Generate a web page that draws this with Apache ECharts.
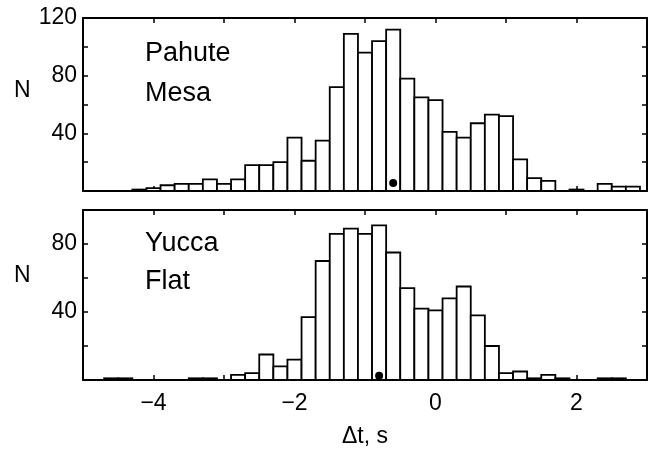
<!DOCTYPE html>
<html>
<head>
<meta charset="utf-8">
<script src="https://cdn.jsdelivr.net/npm/echarts@6/dist/echarts.min.js"></script>
<style>
  html, body { margin: 0; padding: 0; background: #fff; }
  #main { width: 654px; height: 449px; }
</style>
</head>
<body>
<div id="main"></div>
<script>
// histogram bins, width 0.2 s, centred on these values
var binWidth = 0.2;
var binCenters = [-4.8, -4.6, -4.4, -4.2, -4.0, -3.8, -3.6, -3.4, -3.2, -3.0,
  -2.8, -2.6, -2.4, -2.2, -2.0, -1.8, -1.6, -1.4, -1.2, -1.0,
  -0.8, -0.6, -0.4, -0.2, 0.0, 0.2, 0.4, 0.6, 0.8, 1.0,
  1.2, 1.4, 1.6, 1.8, 2.0, 2.2, 2.4, 2.6, 2.8];

var pahuteCounts = [0, 0, 0, 1, 2, 4, 5, 5, 8, 5,
  8, 18, 18, 20, 37, 21, 35, 72, 109, 96,
  104, 112, 78, 65, 63, 41, 37, 47, 53, 52,
  22, 9, 7, 0, 1, 0, 5, 3, 3];

var yuccaCounts = [0, 1, 1, 0, 0, 0, 0, 1, 1, 0,
  3, 4, 15, 8, 12, 37, 70, 86, 89, 86,
  91, 75, 54, 42, 41, 48, 55, 38, 20, 4,
  5, 1, 3, 1, 0, 0, 1, 1, 0];

// mean markers
var pahuteMean = [-0.6, 5.5];
var yuccaMean = [-0.8, 2.5];

var xTicks = [-4, -2, 0, 2];
var pahuteYTicks = [40, 80, 120];
var yuccaYTicks = [40, 80];

var font = 'Liberation Sans, Arial, sans-serif';

function toPairs(counts) {
  return binCenters.map(function (c, i) { return [c, counts[i]]; });
}

function renderBin(params, api) {
  var c = api.value(0), n = api.value(1);
  if (!n) return;
  var p0 = api.coord([c - binWidth / 2, n]);
  var p1 = api.coord([c + binWidth / 2, 0]);
  return {
    type: 'rect',
    shape: { x: p0[0], y: p0[1], width: p1[0] - p0[0], height: p1[1] - p0[1] },
    style: { fill: '#fff', stroke: '#000', lineWidth: 1.8 }
  };
}

function xAxisOf(gridIndex, position, showLabels) {
  return {
    type: 'value', gridIndex: gridIndex, position: position,
    min: -5, max: 3, interval: 1,
    axisLine: { show: true, onZero: false, lineStyle: { color: '#000', width: 2 } },
    axisTick: { show: true, inside: true, length: 5, lineStyle: { color: '#000', width: 1.5 } },
    axisLabel: {
      show: showLabels, margin: 12, color: '#000', fontSize: 23, fontFamily: font,
      formatter: function (v) { return xTicks.indexOf(v) >= 0 ? String(v).replace('-', '\u2212') : ''; }
    },
    splitLine: { show: false }
  };
}

function yAxisOf(gridIndex, position, max, labels) {
  return {
    type: 'value', gridIndex: gridIndex, position: position,
    min: 0, max: max, interval: 20,
    axisLine: { show: true, onZero: false, lineStyle: { color: '#000', width: 2 } },
    axisTick: { show: true, inside: true, length: 5, lineStyle: { color: '#000', width: 1.5 } },
    axisLabel: {
      show: !!labels, margin: 6, color: '#000', fontSize: 23, fontFamily: font,
      formatter: function (v) { return labels && labels.indexOf(v) >= 0 ? String(v) : ''; }
    },
    splitLine: { show: false }
  };
}

var chart = echarts.init(document.getElementById('main'));
chart.setOption({
  animation: false,
  backgroundColor: '#fff',
  grid: [
    { left: 83, right: 7, top: 18, height: 173 },
    { left: 83, right: 7, top: 210, height: 171 }
  ],
  xAxis: [
    xAxisOf(0, 'bottom', false),
    xAxisOf(0, 'top', false),
    Object.assign(xAxisOf(1, 'bottom', true), {
      name: '\u0394t, s', nameLocation: 'middle', nameGap: 45,
      nameTextStyle: { color: '#000', fontSize: 23, fontFamily: font }
    }),
    xAxisOf(1, 'top', false)
  ],
  yAxis: [
    yAxisOf(0, 'left', 120, pahuteYTicks),
    yAxisOf(0, 'right', 120, null),
    yAxisOf(1, 'left', 100, yuccaYTicks),
    yAxisOf(1, 'right', 100, null)
  ],
  graphic: [
    { type: 'text', left: 145, top: 40, style: { text: 'Pahute', fontSize: 27, fontFamily: font, fill: '#000' } },
    { type: 'text', left: 145, top: 80, style: { text: 'Mesa', fontSize: 27, fontFamily: font, fill: '#000' } },
    { type: 'text', left: 145, top: 230, style: { text: 'Yucca', fontSize: 27, fontFamily: font, fill: '#000' } },
    { type: 'text', left: 145, top: 268, style: { text: 'Flat', fontSize: 27, fontFamily: font, fill: '#000' } },
    { type: 'text', left: 14, top: 79, style: { text: 'N', fontSize: 23, fontFamily: font, fill: '#000' } },
    { type: 'text', left: 14, top: 264, style: { text: 'N', fontSize: 23, fontFamily: font, fill: '#000' } }
  ],
  series: [
    { type: 'custom', xAxisIndex: 0, yAxisIndex: 0, renderItem: renderBin, data: toPairs(pahuteCounts) },
    { type: 'custom', xAxisIndex: 2, yAxisIndex: 2, renderItem: renderBin, data: toPairs(yuccaCounts) },
    { type: 'scatter', xAxisIndex: 0, yAxisIndex: 0, symbolSize: 8, itemStyle: { color: '#000', opacity: 1 }, data: [pahuteMean], z: 5 },
    { type: 'scatter', xAxisIndex: 2, yAxisIndex: 2, symbolSize: 8, itemStyle: { color: '#000', opacity: 1 }, data: [yuccaMean], z: 5 }
  ]
});
</script>
</body>
</html>
